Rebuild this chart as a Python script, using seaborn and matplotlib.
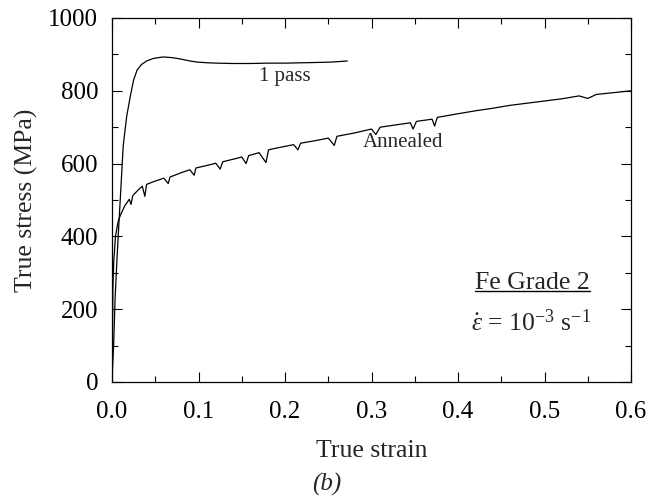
import numpy as np
import pandas as pd
import matplotlib
matplotlib.use("Agg")
import matplotlib.pyplot as plt
import seaborn as sns
from matplotlib.ticker import MultipleLocator
from matplotlib.lines import Line2D

# ---- data ----
pass1_strain = [0.0, 0.002, 0.0035, 0.006, 0.0095, 0.013, 0.017, 0.021, 0.025, 0.029,
                0.034, 0.040, 0.048, 0.059, 0.070, 0.080, 0.090, 0.098, 0.110, 0.121,
                0.140, 0.160, 0.180, 0.200, 0.220, 0.240, 0.255, 0.272]
pass1_stress = [0, 110, 225, 350, 500, 650, 730, 783, 830, 857,
                872, 882, 889, 893, 891, 887, 882, 879, 877, 876,
                875, 875, 876, 876, 877, 878, 879, 882]

ann_strain = [0.0, 0.001, 0.002, 0.004, 0.007, 0.010, 0.015, 0.020, 0.022, 0.024,
              0.030, 0.035, 0.038, 0.040, 0.050, 0.060, 0.065, 0.067, 0.080, 0.090,
              0.095, 0.097, 0.110, 0.120, 0.125, 0.128, 0.140, 0.150, 0.155, 0.158,
              0.170, 0.178, 0.181, 0.195, 0.210, 0.215, 0.218, 0.235, 0.250, 0.257,
              0.260, 0.280, 0.300, 0.305, 0.310, 0.330, 0.345, 0.348, 0.352, 0.370,
              0.373, 0.376, 0.400, 0.420, 0.440, 0.460, 0.480, 0.500, 0.520, 0.540,
              0.550, 0.560, 0.580, 0.600]
ann_stress = [0, 250, 330, 400, 440, 460, 485, 502, 488, 512,
              527, 538, 510, 543, 552, 560, 545, 563, 575, 583,
              568, 588, 595, 601, 585, 605, 612, 618, 600, 622,
              630, 603, 638, 645, 652, 638, 656, 663, 670, 650,
              675, 684, 695, 680, 700, 707, 712, 695, 716, 722,
              703, 727, 737, 745, 752, 760, 766, 772, 778, 786,
              779, 790, 795, 800]

x_ticks = [0.0, 0.1, 0.2, 0.3, 0.4, 0.5, 0.6]
y_ticks = [0, 200, 400, 600, 800, 1000]

df = pd.concat([
    pd.DataFrame({"strain": pass1_strain, "stress": pass1_stress, "sample": "1 pass"}),
    pd.DataFrame({"strain": ann_strain, "stress": ann_stress, "sample": "Annealed"}),
])

sns.set_theme(style="ticks")
plt.rcParams["font.family"] = ["Liberation Serif", "DejaVu Serif"]
plt.rcParams["mathtext.fontset"] = "custom"
plt.rcParams["mathtext.rm"] = "Liberation Serif"
plt.rcParams["mathtext.it"] = "Liberation Serif:italic"
plt.rcParams["mathtext.bf"] = "Liberation Serif:bold"

fig = plt.figure(figsize=(6.49, 4.99), dpi=100)
ax = fig.add_axes([112/649, 1-382/499, (631-112)/649, (382-18)/499])

sns.lineplot(data=df, x="strain", y="stress", units="sample", estimator=None,
             color="black", lw=0.9, sort=False, ax=ax, legend=False)

ax.set_xlim(0, 0.6)
ax.set_ylim(0, 1000)
ax.set_xticks(x_ticks)
ax.set_xticklabels([f"{v:.1f}" for v in x_ticks])
ax.set_yticks(y_ticks)
ax.set_yticklabels([str(v) for v in y_ticks])
ax.xaxis.set_minor_locator(MultipleLocator(0.05))
ax.yaxis.set_minor_locator(MultipleLocator(100))
ax.tick_params(which="both", direction="in", top=True, right=True, width=0.8, colors="black")
ax.tick_params(which="major", length=7, labelsize=18)
ax.tick_params(axis="x", which="major", pad=14)
ax.tick_params(axis="y", which="major", pad=10)
ax.tick_params(which="minor", length=4.5)
for s in ax.spines.values():
    s.set_linewidth(0.9)
    s.set_color("black")

ax.set_xlabel("True strain", fontsize=18.5, labelpad=12)
ax.set_ylabel("True stress (MPa)", fontsize=18.5, labelpad=7)

ax.text(0.20, 838, "1 pass", fontsize=15, ha="center", va="center")
ax.text(0.337, 659, "Annealed", fontsize=15, ha="center", va="center")
t = ax.text(0.486, 272, "Fe Grade 2", fontsize=18.5, ha="center", va="center")
ax.text(0.484, 162, r"$\dot{\varepsilon}$ = 10$^{-3}$ s$^{-1}$", fontsize=18.5, ha="center", va="center")

fig.text(327/649, 3/499, "(b)", fontsize=18, style="italic", ha="center", va="bottom")

# underline for "Fe Grade 2"
fig.canvas.draw()
bb = t.get_window_extent(renderer=fig.canvas.get_renderer())
inv = fig.transFigure.inverted()
(x0, y0), (x1, y1) = inv.transform([(bb.x0, bb.y0 + 3), (bb.x1, bb.y0 + 3)])
fig.add_artist(Line2D([x0, x1], [y0, y1], transform=fig.transFigure, color="black", lw=1.0))

fig.savefig("out.png", dpi=100)
